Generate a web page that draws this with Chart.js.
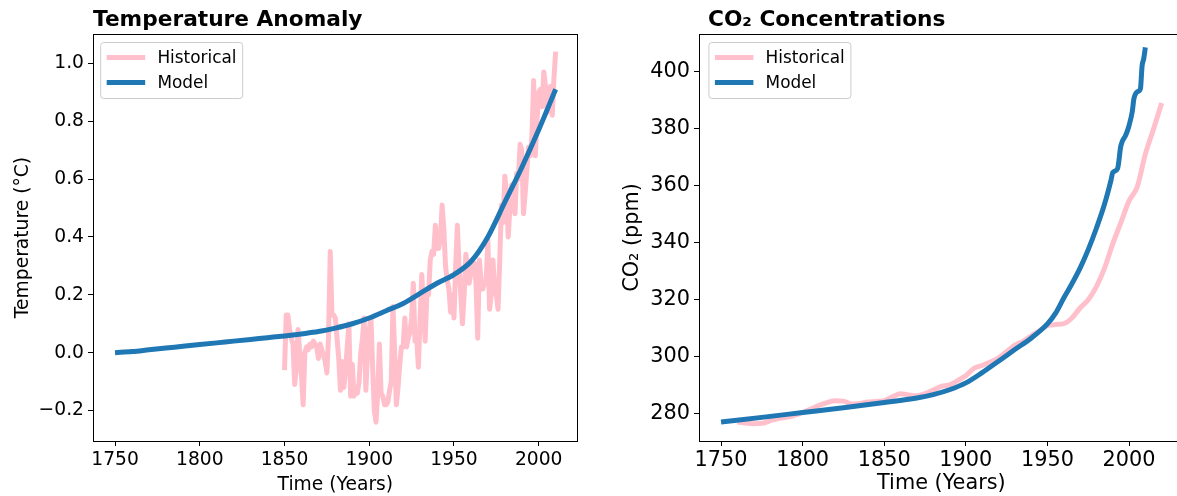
<!DOCTYPE html>
<html>
<head>
<meta charset="utf-8">
<script src="https://cdn.jsdelivr.net/npm/chart.js@4.4.0/dist/chart.umd.min.js"></script>
<style>
  body { margin: 0; width: 1177px; height: 496px; overflow: hidden; position: relative; background: #fff; }
  canvas { position: absolute; top: 0; }
  #tempChart { left: 0; }
  #co2Chart { left: 590px; }
</style>
</head>
<body>
<canvas id="tempChart" width="590" height="496"></canvas>
<canvas id="co2Chart" width="600" height="496"></canvas>
<script>
// tick labels
const yearTicks = [1750, 1800, 1850, 1900, 1950, 2000];
const tempTicks = [-0.2, 0, 0.2, 0.4, 0.6, 0.8, 1.0];
const co2Ticks = [280, 300, 320, 340, 360, 380, 400];

// temperature anomaly, yearly from 1850
const tempHistStart = 1850;
const tempHist = [
  -0.06, 0.13, 0.13, 0.08, 0.05, 0.03, -0.11, -0.05, 0.08, 0.00,
  -0.08, -0.18, 0.00, 0.02, 0.01, 0.03, 0.02, 0.04, 0.03, 0.02,
  -0.02, 0.03, 0.01, -0.01, -0.03, -0.07, 0.06, 0.35, 0.13, 0.13,
  0.12, 0.05, -0.02, -0.13, -0.03, -0.12, -0.06, 0.02, 0.10, -0.15,
  -0.04, -0.15, -0.13, -0.14, -0.10, 0.00, 0.05, 0.12, -0.13, 0.00,
  0.08, 0.12, -0.05, -0.20, -0.24, -0.14, 0.03, -0.14, -0.15, -0.18,
  -0.18, -0.17, -0.13, -0.10, 0.16, 0.00, -0.18, -0.12, -0.04, 0.02,
  0.02, 0.12, 0.02, 0.05, 0.07, 0.12, 0.24, 0.04, 0.05, -0.05,
  0.12, 0.27, 0.15, 0.04, 0.20, 0.20, 0.32, 0.35, 0.34, 0.44,
  0.36, 0.36, 0.40, 0.51, 0.43, 0.30, 0.25, 0.22, 0.14, 0.20,
  0.12, 0.30, 0.44, 0.30, 0.20, 0.10, 0.20, 0.34, 0.30, 0.24,
  0.28, 0.30, 0.31, 0.24, 0.05, 0.32, 0.25, 0.22, 0.24, 0.25,
  0.39, 0.15, 0.20, 0.32, 0.22, 0.20, 0.15, 0.32, 0.51, 0.45,
  0.61, 0.55, 0.40, 0.50, 0.58, 0.52, 0.48, 0.62, 0.60, 0.72,
  0.70, 0.48, 0.55, 0.63, 0.71, 0.68, 0.75, 0.94, 0.68, 0.80,
  0.90, 0.91, 0.85, 0.97, 0.92, 0.83, 0.88, 0.92, 0.82, 0.95,
  1.04
];
const tempModelYears = [1750, 1760, 1770, 1780, 1790, 1800, 1810, 1820, 1830, 1840, 1850, 1860, 1870, 1880, 1890, 1900, 1910, 1920, 1930, 1940, 1950, 1960, 1970, 1980, 1990, 2000, 2010];
const tempModel = [0.000, 0.004, 0.010, 0.016, 0.022, 0.028, 0.034, 0.040, 0.046, 0.052, 0.058, 0.065, 0.073, 0.085, 0.100, 0.120, 0.145, 0.170, 0.205, 0.240, 0.270, 0.315, 0.400, 0.520, 0.640, 0.770, 0.910];

// CO2 concentrations (ppm)
const co2HistYears = [1760, 1765, 1770, 1775, 1780, 1785, 1790, 1795, 1800, 1805, 1810, 1815, 1820, 1825, 1830, 1835, 1840, 1845, 1850, 1855, 1860, 1865, 1870, 1875, 1880, 1885, 1890, 1895, 1900, 1905, 1910, 1915, 1920, 1925, 1930, 1935, 1940, 1945, 1950, 1955, 1960, 1965, 1970, 1975, 1980, 1985, 1990, 1995, 2000, 2005, 2010, 2015, 2020];
const co2Hist = [277.0, 276.6, 276.4, 276.5, 277.4, 278.2, 278.6, 279.3, 280.3, 281.5, 282.8, 283.8, 284.4, 284.3, 283.3, 283.5, 284.0, 284.2, 284.5, 285.8, 286.9, 286.5, 286.2, 286.9, 288.2, 289.5, 290.0, 291.5, 293.2, 295.8, 296.8, 298.0, 299.5, 301.7, 304.0, 305.3, 307.2, 309.0, 310.8, 311.2, 311.5, 313.5, 317.0, 319.9, 324.5, 331.0, 339.5, 347.0, 354.6, 359.5, 371.0, 379.8, 389.0];
const co2ModelYears = [1750, 1775, 1800, 1825, 1850, 1870, 1880, 1890, 1900, 1910, 1920, 1930, 1940, 1950, 1955, 1960, 1965, 1970, 1975, 1980, 1985, 1989, 1990, 1993, 1995, 1998, 2000, 2002, 2003, 2006, 2007, 2008, 2009, 2010];
const co2Model = [277.0, 278.6, 280.3, 282.0, 283.8, 285.4, 286.6, 288.3, 290.7, 294.3, 298.3, 302.4, 306.4, 311.4, 315.2, 320.5, 325.5, 331.0, 337.5, 345.0, 353.5, 362.0, 364.5, 366.0, 374.0, 377.7, 381.0, 386.0, 390.5, 393.2, 394.0, 402.0, 404.5, 408.5];

const FONT = 'DejaVu Sans';
Chart.defaults.color = '#000';
Chart.defaults.font.family = FONT;

const framePlugin = {
  id: 'frame',
  afterDatasetsDraw(chart) {
    const a = chart.chartArea;
    const ctx = chart.ctx;
    ctx.save();
    ctx.strokeStyle = '#000';
    ctx.lineWidth = 1;
    ctx.strokeRect(Math.round(a.left) + 0.5, Math.round(a.top) + 0.5, Math.round(a.right - a.left) - 1, Math.round(a.bottom - a.top));
    ctx.restore();
  }
};

const titlePlugin = {
  id: 'plotTitle',
  afterDraw(chart, args, opts) {
    const ctx = chart.ctx;
    ctx.save();
    ctx.font = 'bold 21.7px "' + FONT + '"';
    ctx.fillStyle = '#000';
    ctx.textBaseline = 'alphabetic';
    ctx.fillText(opts.text, opts.x, 26);
    ctx.restore();
  }
};

const legendPlugin = {
  id: 'boxLegend',
  afterDraw(chart, args, opts) {
    const ctx = chart.ctx;
    const x = opts.x, y = 42.5, w = 142, h = 56, r = 3;
    ctx.save();
    ctx.beginPath();
    ctx.roundRect(x, y, w, h, r);
    ctx.fillStyle = 'rgba(255,255,255,0.8)';
    ctx.fill();
    ctx.strokeStyle = '#cccccc';
    ctx.lineWidth = 1;
    ctx.stroke();
    ctx.font = '16.9px "' + FONT + '"';
    ctx.textBaseline = 'middle';
    ctx.fillStyle = '#000';
    chart.data.datasets.forEach((ds, i) => {
      const ly = y + 15 + i * 25;
      ctx.beginPath();
      ctx.moveTo(x + 6, ly);
      ctx.lineTo(x + 44.5, ly);
      ctx.strokeStyle = ds.borderColor;
      ctx.lineWidth = 5;
      ctx.stroke();
      ctx.fillText(ds.label, x + 56.7, ly + 1);
    });
    ctx.restore();
  }
};

function makeChart(canvas, cfg) {
  const tickFont = { family: FONT, size: cfg.tickSize };
  return new Chart(canvas, {
    type: 'line',
    data: {
      datasets: [{
        label: 'Historical',
        data: cfg.hist,
        borderColor: 'pink',
        borderWidth: 5,
        pointRadius: 0,
        borderJoinStyle: 'round',
        cubicInterpolationMode: cfg.histSmooth ? 'monotone' : 'default',
        order: 2,
      }, {
        label: 'Model',
        data: cfg.model,
        borderColor: '#1f77b4',
        borderWidth: 5,
        pointRadius: 0,
        borderJoinStyle: 'round',
        cubicInterpolationMode: 'monotone',
        order: 1,
      }],
    },
    options: {
      responsive: false,
      animation: false,
      devicePixelRatio: 1,
      layout: { padding: { top: 34, right: cfg.padRight, left: 0, bottom: 0 } },
      plugins: {
        legend: { display: false },
        tooltip: { enabled: false },
        plotTitle: { text: cfg.title, x: cfg.titleX },
        boxLegend: { x: cfg.legendX },
      },
      scales: {
        x: {
          type: 'linear',
          min: cfg.xMin,
          max: cfg.xMax,
          afterFit: s => { s.height = 55; },
          afterBuildTicks: s => { s.ticks = yearTicks.map(v => ({ value: v })); },
          ticks: { font: tickFont, color: '#000', padding: cfg.xPad, maxRotation: 0, autoSkip: false, callback: v => String(v) },
          grid: { drawOnChartArea: false, tickLength: 5, tickColor: '#000', tickWidth: 1 },
          border: { color: '#000', width: 1 },
          title: { display: true, text: 'Time (Years)', font: tickFont, color: '#000', padding: { top: 0, bottom: 0 } },
        },
        y: {
          min: cfg.yMin,
          max: cfg.yMax,
          afterFit: s => { s.width = cfg.yWidth; },
          afterBuildTicks: s => { s.ticks = cfg.yTicks.map(v => ({ value: v })); },
          ticks: { font: tickFont, color: '#000', padding: 4, autoSkip: false, callback: cfg.yFormat },
          grid: { drawOnChartArea: false, tickLength: 5, tickColor: '#000', tickWidth: 1 },
          border: { color: '#000', width: 1 },
          title: { display: true, text: cfg.yTitle, font: tickFont, color: '#000', padding: { top: cfg.yTitlePad, bottom: 0 } },
        },
      },
    },
    plugins: [framePlugin, titlePlugin, legendPlugin],
  });
}

makeChart(document.getElementById('tempChart'), {
  title: 'Temperature Anomaly',
  titleX: 93,
  legendX: 100.7,
  hist: tempHist.map((v, i) => ({ x: tempHistStart + i, y: v })),
  model: tempModelYears.map((yr, i) => ({ x: yr, y: tempModel[i] })),
  histSmooth: false,
  xMin: 1737, xMax: 2023,
  yMin: -0.305, yMax: 1.101,
  yTicks: tempTicks,
  yFormat: v => (v < 0 ? '\u2212' : '') + Math.abs(v).toFixed(1),
  yTitle: 'Temperature (\u00b0C)',
  yTitlePad: 11.5,
  yWidth: 93,
  padRight: 12.3,
  tickSize: 18.7,
  xPad: 3,
});

makeChart(document.getElementById('co2Chart'), {
  title: 'CO\u2082 Concentrations',
  titleX: 118,
  legendX: 118.9,
  hist: co2HistYears.map((yr, i) => ({ x: yr, y: co2Hist[i] })),
  model: co2ModelYears.map((yr, i) => ({ x: yr, y: co2Model[i] })),
  histSmooth: true,
  xMin: 1736.5, xMax: 2033.5,
  yMin: 270.3, yMax: 413.2,
  yTicks: co2Ticks,
  yFormat: v => String(v),
  yTitle: 'CO\u2082 (ppm)',
  yTitlePad: 30.5,
  yWidth: 109,
  padRight: 6.3,
  tickSize: 20.8,
  xPad: 2,
});
</script>
</body>
</html>
